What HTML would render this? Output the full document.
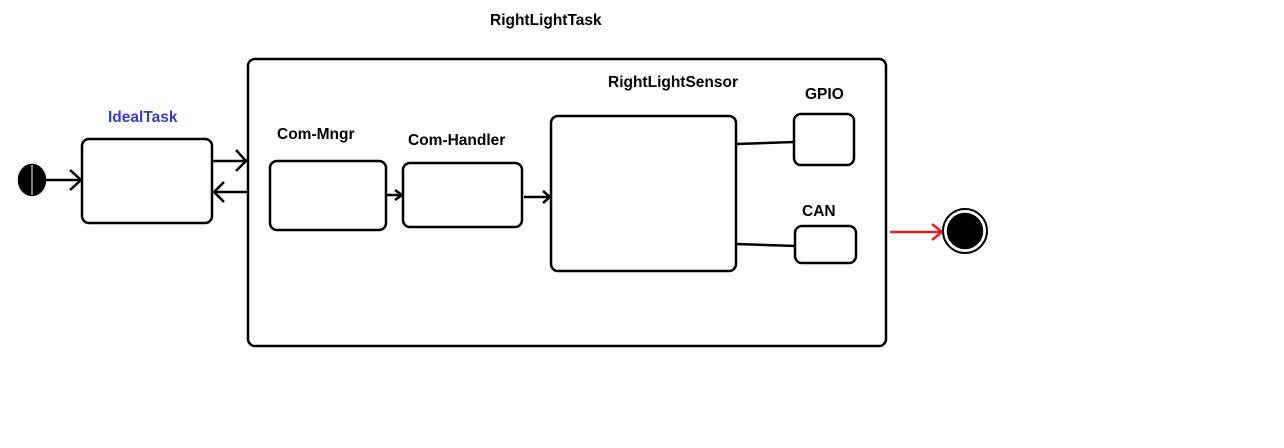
<!DOCTYPE html>
<html><head><style>
html,body{margin:0;padding:0;background:#fff;width:1284px;height:448px;overflow:hidden}
text{font-family:"Liberation Sans",sans-serif;font-weight:bold;font-size:15.5px}
</style></head><body>
<svg width="1284" height="448" xmlns="http://www.w3.org/2000/svg" fill="none" stroke="#000" stroke-width="2.5">
<text x="490" y="25" fill="#000" stroke="none">RightLightTask</text>
<text x="108" y="122" fill="#3b3bc8" stroke="none">IdealTask</text>
<text x="277" y="139" fill="#000" stroke="none">Com-Mngr</text>
<text x="408" y="145" fill="#000" stroke="none">Com-Handler</text>
<text x="608" y="87" fill="#000" stroke="none">RightLightSensor</text>
<text x="805" y="99" fill="#000" stroke="none">GPIO</text>
<text x="802" y="216" fill="#000" stroke="none">CAN</text>
<rect x="248" y="59" width="638" height="287" rx="7"/>
<rect x="82" y="139" width="130" height="84" rx="7"/>
<rect x="270" y="161" width="116" height="69" rx="7"/>
<rect x="403" y="163" width="119" height="64" rx="7"/>
<rect x="551" y="116" width="185" height="155" rx="7"/>
<rect x="794" y="114" width="60" height="51" rx="7"/>
<rect x="795" y="226" width="61" height="37" rx="7"/>
<ellipse cx="32" cy="180" rx="13" ry="15" fill="#000"/>
<line x1="32" y1="165" x2="32" y2="195" stroke="#fff" stroke-width="1"/>
<path d="M45 180H82M70 170L81 180L70 190"/>
<path d="M212 161H247M236 150L246 161L236 171"/>
<path d="M248 192H213M224 182L214 192L224 202"/>
<path d="M386 195H403M395 190L402 195L395 200"/>
<path d="M524 197H551M543 191L550 197L543 203"/>
<path d="M736 144L794 142M736 244L796 246"/>
<path d="M890 232H942M932 224L942 232L932 240" stroke="#e02020"/>
<circle cx="965" cy="231" r="22" stroke-width="2"/>
<circle cx="965" cy="231" r="17" fill="#000"/>
</svg>
</body></html>
